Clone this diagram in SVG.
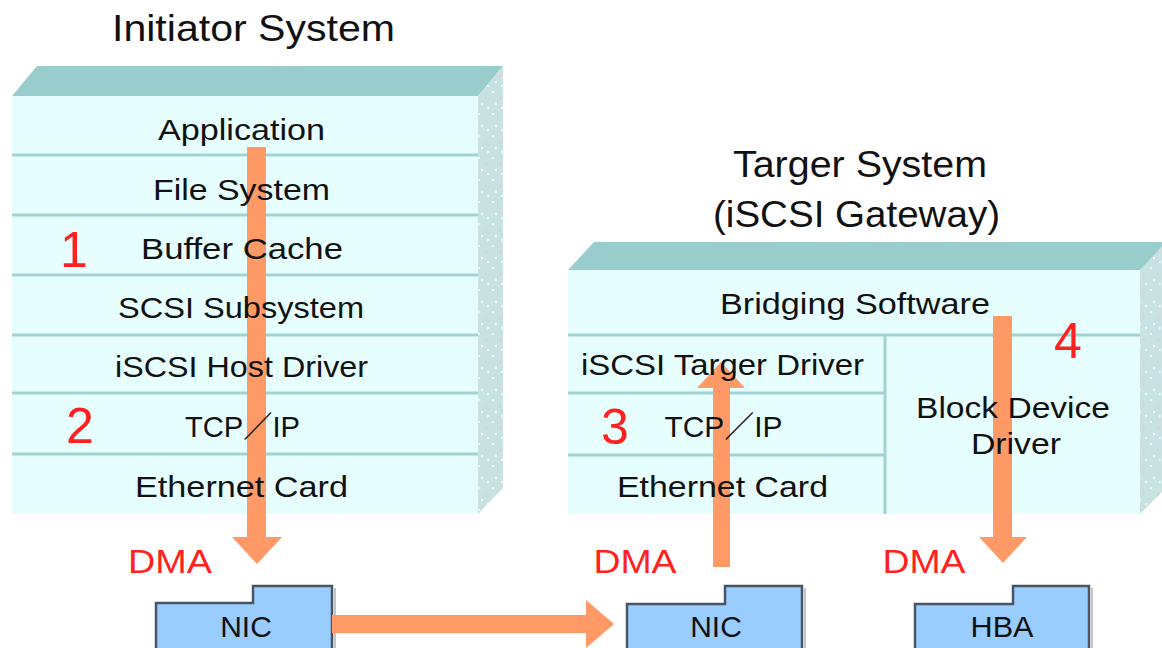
<svg xmlns="http://www.w3.org/2000/svg" width="1162" height="648" viewBox="0 0 1162 648">
  <defs>
    <style>
      .top { fill: #99cccc; }
      .front { fill: #e6fefe; }
      .side { fill: url(#sideDots); }
      .sep { stroke: #a3d2d2; stroke-width: 3; fill: none; }
      .lbl { font-family: "Liberation Sans", "Noto Sans CJK JP", sans-serif; font-size: 30px; fill: #111; text-anchor: middle; }
      .title { font-family: "Liberation Sans", "Noto Sans CJK JP", sans-serif; font-size: 37px; fill: #111; text-anchor: middle; }
      .num { font-family: "Liberation Sans", sans-serif; font-size: 50px; fill: #ff2020; text-anchor: middle; }
      .dma { font-family: "Liberation Sans", sans-serif; font-size: 34px; fill: #ff2020; text-anchor: middle; }
      .card { fill: #99ccff; stroke: #4a5561; stroke-width: 2.5; }
      .cardShadow { stroke: #c4c4c4; stroke-width: 2; fill: none; }
      .flow { fill: #ff9966; }
    </style>
    <!-- speckled side face of the 3D stacks -->
    <pattern id="sideDots" width="14" height="22" patternUnits="userSpaceOnUse">
      <rect width="14" height="22" fill="#c8e2e2"/>
      <rect x="2" y="3" width="2" height="2" fill="#eef8f8"/>
      <rect x="9" y="9" width="2" height="2" fill="#e8c8cc"/>
      <rect x="5" y="15" width="2" height="2" fill="#eef8f8"/>
      <rect x="11" y="19" width="2" height="2" fill="#eef8f8"/>
    </pattern>
  </defs>

  <rect width="1162" height="648" fill="#ffffff"/>

  <!-- Initiator stack body -->
  <g id="initiator-stack">
    <polygon class="top" points="12,96 37,66 503,66 478,96"/>
    <polygon class="side" points="478,96 503,66 503,488 478,514"/>
    <rect class="front" x="12" y="96" width="466" height="418"/>
    <path class="sep" d="M12,155 H478 M12,215 H478 M12,275 H478 M12,335 H478 M12,393 H478 M12,454 H478"/>
  </g>

  <!-- Target stack body -->
  <g id="target-stack">
    <polygon class="top" points="568,270 594,242 1162,242 1162,248 1140,270"/>
    <polygon class="side" points="1140,270 1166,242 1166,488 1140,514"/>
    <rect class="front" x="568" y="270" width="572" height="244"/>
    <path class="sep" d="M568,335 H1140 M885,335 V514 M568,393 H885 M568,455 H885"/>
  </g>

  <!-- Adapter cards -->
  <g id="nic-initiator">
    <path class="card" d="M156,650 V603 H253 V586 H332 V650"/>
    <line class="cardShadow" x1="335" y1="588" x2="335" y2="648"/>
    <text class="lbl" x="246" y="637">NIC</text>
  </g>
  <g id="nic-target">
    <path class="card" d="M627,650 V604 H725 V586 H802 V650"/>
    <line class="cardShadow" x1="805" y1="588" x2="805" y2="648"/>
    <text class="lbl" x="716" y="637">NIC</text>
  </g>
  <g id="hba-target">
    <path class="card" d="M915,650 V604 H1013 V586 H1089 V650"/>
    <line class="cardShadow" x1="1092" y1="588" x2="1092" y2="648"/>
    <text class="lbl" x="1002" y="637" textLength="63" lengthAdjust="spacingAndGlyphs">HBA</text>
  </g>

  <!-- Data path arrows -->
  <g id="connectors">
    <g id="flow-initiator-down">
      <rect class="flow" x="247" y="147" width="19" height="391"/>
      <polygon class="flow" points="232,537 282,537 257,564"/>
    </g>
    <g id="flow-wire">
      <rect class="flow" x="332" y="615" width="256" height="18"/>
      <polygon class="flow" points="586,600 586,648 614,624"/>
    </g>
    <g id="flow-target-up">
      <rect class="flow" x="713" y="387" width="17" height="180"/>
      <polygon class="flow" points="697,388 745,388 721,362"/>
    </g>
    <g id="flow-target-down">
      <rect class="flow" x="993" y="316" width="19" height="222"/>
      <polygon class="flow" points="979,537 1027,537 1003,563"/>
    </g>
  </g>

  <!-- Titles -->
  <text class="title" x="253.5" y="41" textLength="283" lengthAdjust="spacingAndGlyphs">Initiator System</text>
  <text class="title" x="860" y="177" textLength="254" lengthAdjust="spacingAndGlyphs">Targer System</text>
  <text class="title" x="856.5" y="227" textLength="287" lengthAdjust="spacingAndGlyphs">(iSCSI Gateway)</text>

  <!-- Initiator layers -->
  <g id="layer-application"><text class="lbl" x="241.5" y="140" textLength="167" lengthAdjust="spacingAndGlyphs">Application</text></g>
  <g id="layer-filesystem"><text class="lbl" x="241.5" y="200" textLength="177" lengthAdjust="spacingAndGlyphs">File System</text></g>
  <g id="layer-buffercache"><text class="lbl" x="242" y="259" textLength="202" lengthAdjust="spacingAndGlyphs">Buffer Cache</text></g>
  <g id="layer-scsi"><text class="lbl" x="241" y="318" textLength="246" lengthAdjust="spacingAndGlyphs">SCSI Subsystem</text></g>
  <g id="layer-iscsi-host"><text class="lbl" x="241.5" y="377" textLength="253" lengthAdjust="spacingAndGlyphs">iSCSI Host Driver</text></g>
  <g id="layer-tcpip-i"><text class="lbl" x="242.5" y="437" textLength="115" lengthAdjust="spacingAndGlyphs">TCP／IP</text></g>
  <g id="layer-ethernet-i"><text class="lbl" x="241.5" y="497" textLength="213" lengthAdjust="spacingAndGlyphs">Ethernet Card</text></g>

  <!-- Target layers -->
  <g id="layer-bridging"><text class="lbl" x="855" y="314" textLength="270" lengthAdjust="spacingAndGlyphs">Bridging Software</text></g>
  <g id="layer-iscsi-target"><text class="lbl" x="722.5" y="375" textLength="283" lengthAdjust="spacingAndGlyphs">iSCSI Targer Driver</text></g>
  <g id="layer-tcpip-t"><text class="lbl" x="723.5" y="437" textLength="118" lengthAdjust="spacingAndGlyphs">TCP／IP</text></g>
  <g id="layer-ethernet-t"><text class="lbl" x="722.5" y="497" textLength="211" lengthAdjust="spacingAndGlyphs">Ethernet Card</text></g>
  <g id="layer-block">
    <text class="lbl" x="1013" y="418" textLength="194" lengthAdjust="spacingAndGlyphs">Block Device</text>
    <text class="lbl" x="1016" y="454" textLength="90" lengthAdjust="spacingAndGlyphs">Driver</text>
  </g>

  <!-- Step numbers -->
  <text class="num" x="74" y="267">1</text>
  <text class="num" x="80" y="443">2</text>
  <text class="num" x="615" y="444">3</text>
  <text class="num" x="1068" y="358">4</text>

  <!-- DMA labels -->
  <text class="dma" x="170" y="573" textLength="84" lengthAdjust="spacingAndGlyphs">DMA</text>
  <text class="dma" x="635" y="573" textLength="83" lengthAdjust="spacingAndGlyphs">DMA</text>
  <text class="dma" x="924" y="573" textLength="83" lengthAdjust="spacingAndGlyphs">DMA</text>
</svg>
